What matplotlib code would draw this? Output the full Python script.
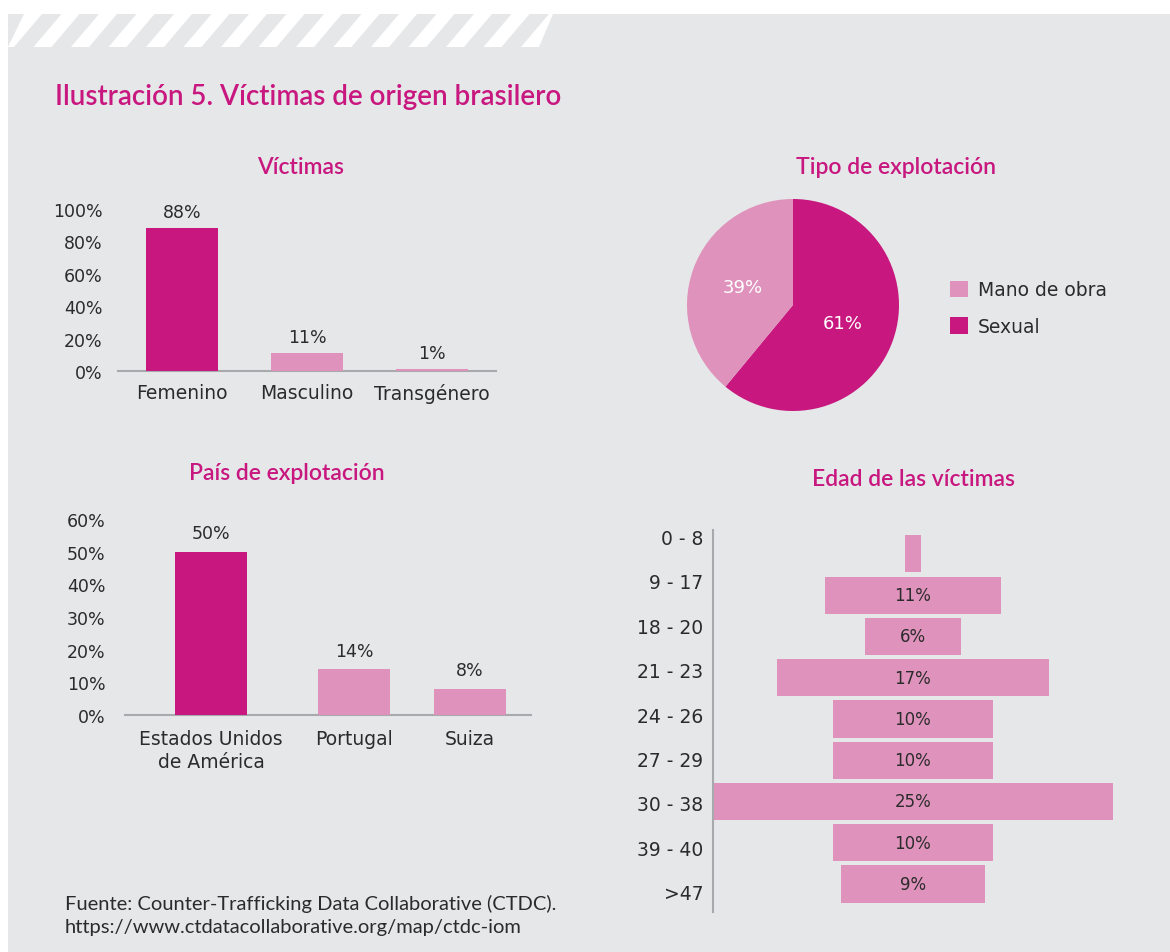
import matplotlib
matplotlib.use("Agg")
import matplotlib.pyplot as plt
from matplotlib.patches import Polygon, Rectangle, Patch

# data
gender_cats = ["Femenino", "Masculino", "Transgénero"]
gender_vals = [88, 11, 1]

country_cats = ["Estados Unidos\nde América", "Portugal", "Suiza"]
country_vals = [50, 14, 8]

expl_labels = ["Sexual", "Mano de obra"]
expl_vals = [61, 39]

age_cats = ["0 - 8", "9 - 17", "18 - 20", "21 - 23", "24 - 26", "27 - 29", "30 - 38", "39 - 40", ">47"]
age_vals = [1, 11, 6, 17, 10, 10, 25, 10, 9]

DARK = "#C8177F"
LIGHT = "#DF93BC"
BG = "#E6E7E9"
TXT = "#2B2B2B"
AXC = "#A8A9AD"
TITLE_FONT = "Lato"
BODY_FONT = "DejaVu Sans"

W, H = 1170, 953
fig = plt.figure(figsize=(W / 100, H / 100), dpi=100)
fig.patch.set_facecolor("white")


def rect(l, t, r, b):
    return [l / W, 1 - b / H, (r - l) / W, (b - t) / H]


def fx(x):
    return x / W


def fy(y):
    return 1 - y / H


# gray panel + striped band
fig.patches.append(Rectangle((fx(8), 0), 1 - fx(8), fy(15), transform=fig.transFigure,
                             facecolor=BG, edgecolor="none", zorder=-3))
for k in range(15):
    x0 = 8 + k * 37.5 - 12
    pts = [(x0, 48), (x0 + 18, 48), (x0 + 46, 15), (x0 + 28, 15)]
    pts = [(min(max(px_, 8), 553), py_) for px_, py_ in pts]
    fig.patches.append(Polygon([(fx(a), fy(b)) for a, b in pts], closed=True,
                               transform=fig.transFigure, facecolor="white",
                               edgecolor="none", zorder=-2))

fig.text(fx(55), fy(97), "Ilustración 5. Víctimas de origen brasilero", color=DARK,
         fontsize=20, family=TITLE_FONT, weight="semibold", va="center", ha="left")

subtitle_kw = dict(color=DARK, fontsize=16.5, family=TITLE_FONT, weight="semibold",
                   va="center", ha="center")
fig.text(fx(300), fy(168), "Víctimas", **subtitle_kw)
fig.text(fx(896), fy(168), "Tipo de explotación", **subtitle_kw)
fig.text(fx(287), fy(474), "País de explotación", **subtitle_kw)
fig.text(fx(913), fy(480), "Edad de las víctimas", **subtitle_kw)


def style_bar_axes(ax):
    ax.set_facecolor("none")
    for s in ["top", "right", "left"]:
        ax.spines[s].set_visible(False)
    ax.spines["bottom"].set_color(AXC)
    ax.spines["bottom"].set_linewidth(1.5)
    ax.spines["bottom"].set_zorder(1)
    ax.tick_params(length=0, labelcolor=TXT)
    ax.tick_params(axis="y", labelsize=12.5)
    ax.tick_params(axis="x", labelsize=13.5)
    for lab in ax.get_xticklabels() + ax.get_yticklabels():
        lab.set_family(BODY_FONT)


# Víctimas
ax1 = fig.add_axes(rect(118, 210, 496, 372))
x1 = list(range(len(gender_cats)))
bars = ax1.bar(x1, gender_vals, width=0.576,
               color=[DARK] + [LIGHT] * (len(gender_vals) - 1), zorder=2)
ax1.set_xlim(-0.51, 2.51)
ax1.set_ylim(0, 100)
ax1.set_yticks(range(0, 101, 20))
ax1.set_yticklabels([f"{v}%" for v in range(0, 101, 20)])
ax1.set_xticks(x1)
ax1.set_xticklabels(gender_cats)
style_bar_axes(ax1)
ax1.tick_params(axis="y", pad=11)
ax1.tick_params(axis="x", pad=9)
for b, v in zip(bars, gender_vals):
    ax1.annotate(f"{v}%", (b.get_x() + b.get_width() / 2, v), xytext=(0, 5),
                 textcoords="offset points", ha="center", va="bottom",
                 fontsize=12.5, color=TXT, family=BODY_FONT, annotation_clip=False)

# País de explotación
ax2 = fig.add_axes(rect(125, 520, 531, 716))
x2 = [0, 1, 1.811]
bars = ax2.bar(x2, country_vals, width=0.503,
               color=[DARK] + [LIGHT] * (len(country_vals) - 1), zorder=2)
ax2.set_xlim(-0.601, 2.238)
ax2.set_ylim(0, 60)
ax2.set_yticks(range(0, 61, 10))
ax2.set_yticklabels([f"{v}%" for v in range(0, 61, 10)])
ax2.set_xticks(x2)
ax2.set_xticklabels(country_cats, linespacing=1.3)
style_bar_axes(ax2)
ax2.tick_params(axis="y", pad=14)
ax2.tick_params(axis="x", pad=10)
for b, v in zip(bars, country_vals):
    ax2.annotate(f"{v}%", (b.get_x() + b.get_width() / 2, v), xytext=(0, 7),
                 textcoords="offset points", ha="center", va="bottom",
                 fontsize=12.5, color=TXT, family=BODY_FONT, annotation_clip=False)

# Tipo de explotación
ax3 = fig.add_axes(rect(687, 200, 899, 412))
wedges, _, autotexts = ax3.pie(expl_vals, colors=[DARK, LIGHT], startangle=90,
                               counterclock=False, autopct="%d%%", pctdistance=0.5,
                               radius=1, wedgeprops=dict(linewidth=0))
for t in autotexts:
    t.set_color("white")
    t.set_fontsize(13)
    t.set_family(BODY_FONT)
ax3.set_xlim(-1, 1)
ax3.set_ylim(-1, 1)
ax3.set_aspect("equal")
handles = [Patch(facecolor=LIGHT, label=expl_labels[1]),
           Patch(facecolor=DARK, label=expl_labels[0])]
fig.legend(handles=handles, loc="center left", bbox_to_anchor=(fx(933), fy(309)),
           frameon=False, handlelength=0.95, handleheight=0.95, handletextpad=0.55,
           labelspacing=0.95, prop=dict(family=BODY_FONT, size=13.5), labelcolor=TXT)

# Edad de las víctimas
ax4 = fig.add_axes(rect(713, 531, 1113, 913))
y4 = list(range(len(age_cats)))
bars = ax4.barh(y4, age_vals, left=[-v / 2 for v in age_vals], height=0.9,
                color=LIGHT, zorder=2)
ax4.set_xlim(-12.5, 12.5)
ax4.set_ylim(8.68, -0.58)
ax4.set_facecolor("none")
for s in ["top", "right", "bottom"]:
    ax4.spines[s].set_visible(False)
ax4.spines["left"].set_color(AXC)
ax4.spines["left"].set_linewidth(1.5)
ax4.set_xticks([])
ax4.set_yticks([-0.42 + i * 1.076 for i in y4])
ax4.set_yticklabels(age_cats)
ax4.tick_params(length=0, labelsize=13.5, labelcolor=TXT, pad=7)
for lab in ax4.get_yticklabels():
    lab.set_family(BODY_FONT)
for yy, v in zip(y4, age_vals):
    if v >= 5:
        ax4.text(0, yy, f"{v}%", ha="center", va="center", fontsize=12,
                 color=TXT, family=BODY_FONT, zorder=3)

# fuente
fig.text(fx(65), fy(904), "Fuente: Counter-Trafficking Data Collaborative (CTDC).",
         color=TXT, fontsize=14.5, family=TITLE_FONT, va="center", ha="left")
fig.text(fx(65), fy(928), "https://www.ctdatacollaborative.org/map/ctdc-iom",
         color=TXT, fontsize=14.5, family=TITLE_FONT, va="center", ha="left")

fig.savefig("out.png", dpi=100, facecolor=fig.get_facecolor())
